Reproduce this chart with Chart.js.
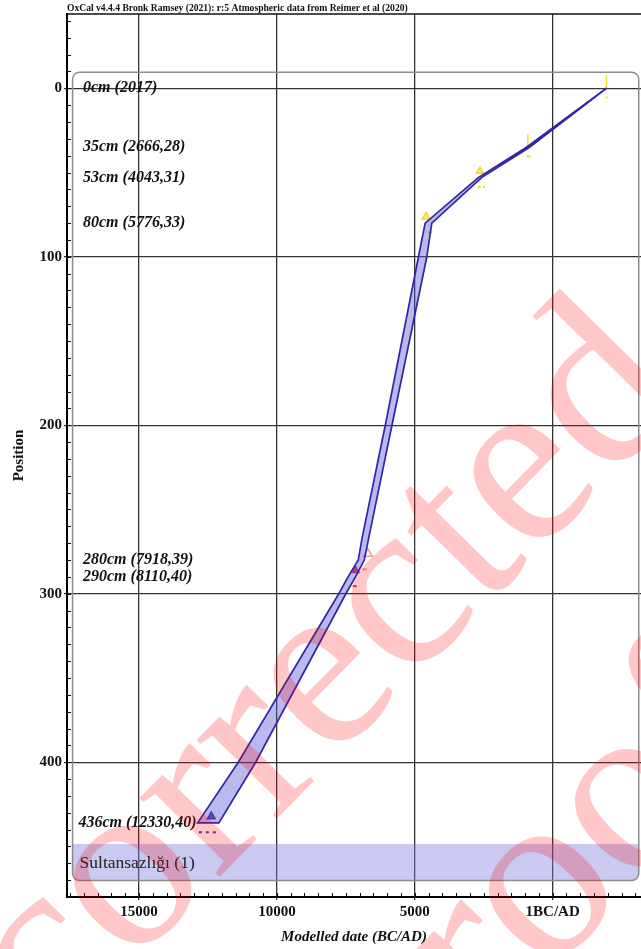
<!DOCTYPE html>
<html>
<head>
<meta charset="utf-8">
<script src="https://cdn.jsdelivr.net/npm/chart.js@4.4.1/dist/chart.umd.min.js"></script>
<style>
  html, body { margin: 0; padding: 0; background: #fff; }
  canvas { display: block; }
</style>
</head>
<body>
<canvas id="depthChart" width="641" height="949"></canvas>
<script>
const titleText = "OxCal v4.4.4 Bronk Ramsey (2021): r:5 Atmospheric data from Reimer et al (2020)";
const sequenceName = "Sultansazlığı (1)";

// axis ranges (date in years BC, negative = AD) and depth in cm
const dateRange = [-3202, 17611];
const depthRange = [-44.1, 480];
const dateTicks = [15000, 10000, 5000, 0];
const dateTickLabels = ["15000", "10000", "5000", "1BC/AD"];
const depthTicks = [0, 100, 200, 300, 400];

// dated samples
const sampleLabels = ["0cm (2017)", "35cm (2666,28)", "53cm (4043,31)", "80cm (5776,33)",
  "280cm (7918,39)", "290cm (8110,40)", "436cm (12330,40)"];
const sampleDepths = [0, 35, 53, 80, 280, 290, 436];
const samplePeak = [-1950, 900, 2640, 4590, 6700, 7150, 12380];
const rangeFrom = [-1930, 940, 2710, 4550, 6900, 7250, 12830];
const rangeTo = [-1990, 800, 2460, 4370, 6750, 7050, 12200];

// age-depth model envelope (95% range)
const modelDepth = [0, 35, 53, 80, 100, 200, 267, 280, 290, 300, 400, 436];
const modelOldest = [-1950, 950, 2700, 4625, 4866, 6070, 6912, 7050, 7420, 7757, 11400, 12874];
const modelYoungest = [-1950, 840, 2580, 4384, 4563, 5828, 6672, 6830, 7150, 7500, 10770, 12104];

// sequence box, in chart units
const boxDates = [17410, -3120];
const boxDepths = [-9.5, 470.2];
const boxBandTop = 448.5;

const serif = "'Liberation Serif', 'Times New Roman', serif";
const markStyle = [
  {shape: 'line', radius: 6.5, fill: 'rgba(240,220,40,0.9)', line: 'rgba(240,215,20,0.9)', dash: []},
  {shape: 'line', radius: 6.5, fill: 'rgba(240,220,40,0.9)', line: 'rgba(240,215,20,0.9)', dash: []},
  {shape: 'triangle', radius: 4, fill: 'rgba(240,220,40,0.6)', line: 'rgba(240,215,20,0.9)', dash: [3, 2]},
  {shape: 'triangle', radius: 4.5, fill: 'rgba(240,220,40,0.6)', line: 'rgba(240,215,20,0.9)', dash: []},
  {shape: 'triangle', radius: 5, fill: 'rgba(255,255,255,0)', line: 'rgba(230,90,90,0.6)', dash: []},
  {shape: 'triangle', radius: 4, fill: 'rgba(230,30,30,0.85)', line: 'rgba(225,30,30,0.9)', dash: [4, 3]},
  {shape: 'triangle', radius: 4.5, fill: 'rgba(60,30,150,0.85)', line: 'rgba(70,30,160,0.9)', dash: [3, 4]}
];
const PEAK_LIFT = 3.8;
const RANGE_DROP = 5.5;

const envelope = modelDepth.map((d, i) => ({x: modelOldest[i], y: d}))
  .concat(modelDepth.map((d, i) => ({x: modelYoungest[i], y: d})).reverse());

const datasets = [{
  label: 'model',
  data: envelope,
  borderColor: '#3424a8',
  borderWidth: 1.7,
  backgroundColor: 'rgba(80,80,212,0.4)',
  fill: 'shape',
  pointRadius: 0,
  tension: 0
}, {
  label: 'peaks',
  data: sampleDepths.map((d, i) => ({x: samplePeak[i], y: d - PEAK_LIFT})),
  showLine: false,
  pointStyle: c => markStyle[c.dataIndex].shape,
  rotation: c => markStyle[c.dataIndex].shape === 'line' ? 90 : 0,
  pointRadius: c => markStyle[c.dataIndex].radius,
  pointBackgroundColor: c => markStyle[c.dataIndex].fill,
  pointBorderColor: c => markStyle[c.dataIndex].line,
  pointBorderWidth: 1.5
}];
sampleDepths.forEach((d, i) => {
  datasets.push({
    label: 'range ' + sampleLabels[i],
    data: [{x: rangeFrom[i], y: d + RANGE_DROP}, {x: rangeTo[i], y: d + RANGE_DROP}],
    borderColor: markStyle[i].line,
    borderWidth: 2,
    borderDash: markStyle[i].dash,
    pointRadius: 0,
    fill: false
  });
});

const oxcalDecor = {
  id: 'oxcalDecor',
  beforeDatasetsDraw(chart) {
    const {ctx, scales: {x, y}} = chart;
    const l = x.getPixelForValue(boxDates[0]), r = x.getPixelForValue(boxDates[1]);
    const t = y.getPixelForValue(boxDepths[0]), b = y.getPixelForValue(boxDepths[1]);
    const bt = y.getPixelForValue(boxBandTop);
    ctx.save();
    ctx.fillStyle = 'rgba(120,120,222,0.4)';
    ctx.beginPath();
    ctx.roundRect(l, bt, r - l, b - bt, [0, 0, 7, 7]);
    ctx.fill();
    ctx.strokeStyle = '#8c8c8c';
    ctx.lineWidth = 1.5;
    ctx.beginPath();
    ctx.roundRect(l, t, r - l, b - t, 7);
    ctx.stroke();
    ctx.fillStyle = '#222';
    ctx.font = '17.5px ' + serif;
    ctx.textBaseline = 'middle';
    ctx.fillText(sequenceName, l + 7, (bt + b) / 2 + 1);
    ctx.restore();
  },
  afterDatasetsDraw(chart) {
    const {ctx, chartArea: a, scales: {x, y}} = chart;
    ctx.save();
    // minor ticks, pointing inwards
    ctx.strokeStyle = '#111';
    ctx.lineWidth = 1;
    ctx.beginPath();
    for (let v = Math.ceil(dateRange[0] / 500) * 500; v <= dateRange[1]; v += 500) {
      const px = Math.round(x.getPixelForValue(v)) + 0.5;
      ctx.moveTo(px, a.bottom);
      ctx.lineTo(px, a.bottom - 4);
    }
    for (let d = Math.ceil(depthRange[0] / 10) * 10; d <= depthRange[1]; d += 10) {
      const py = Math.round(y.getPixelForValue(d)) + 0.5;
      ctx.moveTo(a.left, py);
      ctx.lineTo(a.left + 4, py);
    }
    ctx.stroke();
    // top frame
    ctx.lineWidth = 1.5;
    ctx.beginPath();
    ctx.moveTo(a.left, a.top);
    ctx.lineTo(a.right, a.top);
    ctx.stroke();
    // sample labels
    ctx.fillStyle = '#111';
    ctx.font = 'italic bold 16px ' + serif;
    ctx.textBaseline = 'middle';
    sampleDepths.forEach((d, i) => {
      const py = y.getPixelForValue(d);
      if (i === sampleDepths.length - 1) {
        ctx.textAlign = 'right';
        ctx.fillText(sampleLabels[i], x.getPixelForValue(modelOldest[modelOldest.length - 1]) - 1, py);
      } else {
        ctx.textAlign = 'left';
        ctx.fillText(sampleLabels[i], a.left + 16, py);
      }
    });
    ctx.restore();
  },
  afterDraw(chart) {
    const {ctx, chartArea: a} = chart;
    ctx.save();
    ctx.fillStyle = '#111';
    ctx.font = 'bold 9.6px ' + serif;
    ctx.textBaseline = 'alphabetic';
    ctx.textAlign = 'left';
    ctx.fillText(titleText, a.left, a.top - 3);
    // proof watermark
    ctx.fillStyle = 'rgba(255,0,0,0.22)';
    ctx.font = '245px ' + serif;
    const ang = -45.5 * Math.PI / 180;
    [["Uncorrected", -156, 1259], ["proof", 402, 1124]].forEach(([t, x0, y0]) => {
      ctx.save();
      ctx.translate(x0, y0);
      ctx.rotate(ang);
      ctx.fillText(t, 0, 0);
      ctx.restore();
    });
    ctx.restore();
  }
};

new Chart(document.getElementById('depthChart'), {
  type: 'line',
  data: {datasets},
  plugins: [oxcalDecor],
  options: {
    responsive: false,
    animation: false,
    layout: {autoPadding: false, padding: {top: 14, left: 0, right: 0, bottom: 0}},
    plugins: {legend: {display: false}, tooltip: {enabled: false}},
    scales: {
      x: {
        type: 'linear',
        reverse: true,
        min: dateRange[0],
        max: dateRange[1],
        afterBuildTicks: s => { s.ticks = dateTicks.map(v => ({value: v})); },
        afterFit: s => { s.height = 52; },
        grid: {color: '#333', lineWidth: 1.3, tickLength: 3},
        border: {display: true, color: '#000', width: 2},
        ticks: {
          padding: 3,
          color: '#111',
          font: {family: serif, size: 15, weight: 'bold'},
          callback: v => dateTickLabels[dateTicks.indexOf(v)]
        },
        title: {
          display: true,
          text: 'Modelled date (BC/AD)',
          color: '#111',
          font: {family: serif, size: 15, weight: 'bold', style: 'italic'},
          padding: {top: 0, bottom: 3}
        }
      },
      y: {
        type: 'linear',
        reverse: true,
        min: depthRange[0],
        max: depthRange[1],
        afterBuildTicks: s => { s.ticks = depthTicks.map(v => ({value: v})); },
        afterFit: s => { s.width = 67; },
        grid: {color: '#333', lineWidth: 1.3, tickLength: 3},
        border: {display: true, color: '#000', width: 2},
        ticks: {
          padding: 2,
          color: '#111',
          font: {family: serif, size: 15, weight: 'bold'}
        },
        title: {
          display: true,
          text: 'Position',
          color: '#111',
          font: {family: serif, size: 15, weight: 'bold'},
          padding: {top: 10, bottom: 0}
        }
      }
    }
  }
});
</script>
</body>
</html>
